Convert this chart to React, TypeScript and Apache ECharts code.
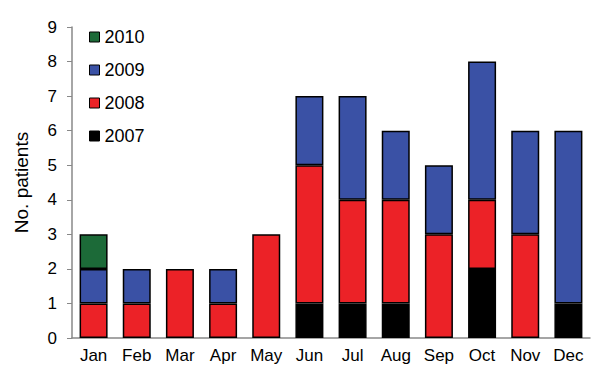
import React, { useEffect, useRef } from "react";
import * as echarts from "echarts";

const months = ["Jan", "Feb", "Mar", "Apr", "May", "Jun", "Jul", "Aug", "Sep", "Oct", "Nov", "Dec"];
const y2007 = [0, 0, 0, 0, 0, 1, 1, 1, 0, 2, 0, 1];
const y2008 = [1, 1, 2, 1, 3, 4, 3, 3, 3, 2, 3, 0];
const y2009 = [1, 1, 0, 1, 0, 2, 3, 2, 2, 4, 3, 5];
const y2010 = [1, 0, 0, 0, 0, 0, 0, 0, 0, 0, 0, 0];
const legendOrder = ["2010", "2009", "2008", "2007"];

export default function App() {
  const ref = useRef<HTMLDivElement>(null);
  useEffect(() => {
    const chart = echarts.init(ref.current!, null, { renderer: "svg" });
    const font = "'Liberation Sans', Arial, sans-serif";
    const mk = (name: string, data: number[], color: string) => ({
      name,
      type: "bar",
      stack: "total",
      data: data.map((v) => (v === 0 ? "-" : v)),
      barWidth: 28,
      itemStyle: { color, borderColor: "#000", borderWidth: 1.5 },
    });
    chart.setOption({
      animation: false,
      textStyle: { fontFamily: font },
      grid: { left: 72, right: 10, top: 27, bottom: 32 },
      legend: {
        data: legendOrder,
        orient: "vertical",
        left: 84,
        top: 23,
        itemWidth: 10,
        itemHeight: 10,
        itemGap: 15,
        icon: "rect",
        textStyle: { fontSize: 18, color: "#000", fontFamily: font },
        itemStyle: { borderColor: "#000", borderWidth: 1 },
      },
      xAxis: {
        type: "category",
        data: months,
        axisLine: { lineStyle: { color: "#888", width: 1.5 } },
        axisTick: { show: false },
        axisLabel: { fontSize: 17, color: "#000", fontFamily: font, margin: 9 },
      },
      yAxis: {
        type: "value",
        min: 0,
        max: 9,
        interval: 1,
        name: "No. patients",
        nameLocation: "middle",
        nameGap: 41,
        nameTextStyle: { fontSize: 19, color: "#000", fontFamily: font },
        axisLine: { show: true, lineStyle: { color: "#888", width: 1.5 } },
        axisTick: { show: true, length: 5, lineStyle: { color: "#888" } },
        splitLine: { show: false },
        axisLabel: { fontSize: 17, color: "#000", fontFamily: font, margin: 15 },
      },
      series: [
        mk("2007", y2007, "#000000"),
        mk("2008", y2008, "#ec2227"),
        mk("2009", y2009, "#3a51a5"),
        mk("2010", y2010, "#1c6a38"),
      ],
    });
    return () => chart.dispose();
  }, []);
  return <div ref={ref} style={{ width: 600, height: 370, position: "absolute", left: 0, top: 0 }} />;
}
